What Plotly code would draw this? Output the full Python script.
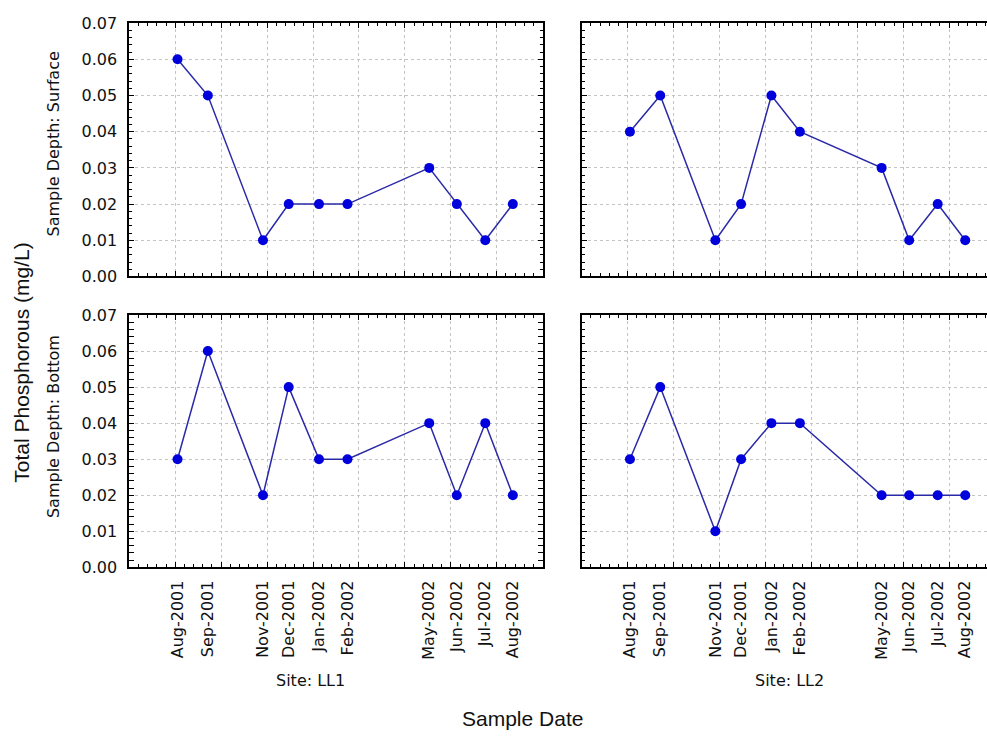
import pandas as pd
import plotly.graph_objects as go

# Sampling dates and their tick labels
dates = ["2001-08-14", "2001-09-16", "2001-11-15", "2001-12-13", "2002-01-15",
         "2002-02-15", "2002-05-15", "2002-06-14", "2002-07-15", "2002-08-14"]
date_labels = ["Aug-2001", "Sep-2001", "Nov-2001", "Dec-2001", "Jan-2002",
               "Feb-2002", "May-2002", "Jun-2002", "Jul-2002", "Aug-2002"]

# Total phosphorous (mg/L) by site and sample depth
ll1_surface = [0.06, 0.05, 0.01, 0.02, 0.02, 0.02, 0.03, 0.02, 0.01, 0.02]
ll2_surface = [0.04, 0.05, 0.01, 0.02, 0.05, 0.04, 0.03, 0.01, 0.02, 0.01]
ll1_bottom = [0.03, 0.06, 0.02, 0.05, 0.03, 0.03, 0.04, 0.02, 0.04, 0.02]
ll2_bottom = [0.03, 0.05, 0.01, 0.03, 0.04, 0.04, 0.02, 0.02, 0.02, 0.02]

y_ticks = [0.0, 0.01, 0.02, 0.03, 0.04, 0.05, 0.06, 0.07]

W, H = 987, 744
DAY_MS = 86400000

# panel geometry (pixels)
left_x = (129.3, 542.7)
right_x0 = 581.7
top_y = (14.5, 274.5)
bot_y = (314.0, 573.0)

x_start = pd.Timestamp("2001-06-22 12:00")
span_days = 450
px_per_day = (left_x[1] - left_x[0]) / span_days
x_end_left = x_start + pd.Timedelta(days=span_days)
x_end_right = x_start + pd.Timedelta(days=(W - right_x0) / px_per_day)
tick0 = x_start + pd.Timedelta(days=50)


def fmt(t):
    return t.strftime("%Y-%m-%d %H:%M:%S")


def xdom(a, b):
    return [a / W, min(b / W, 1.0)]


def ydom(a, b):
    return [1 - b / H, 1 - a / H]


small_font = dict(family="DejaVu Sans", size=16, color="#111111")
big_font = dict(family="Liberation Sans, Arial", size=21, color="#111111")
grid_color = "#c4c4c4"


def x_axis(dom, end, anchor):
    return dict(
        type="date", domain=dom, range=[fmt(x_start), fmt(end)], anchor=anchor,
        tick0=fmt(tick0), dtick=50 * DAY_MS, ticks="inside", ticklen=5,
        tickwidth=1, tickcolor="black", showticklabels=False,
        showgrid=True, gridcolor=grid_color, griddash="dot", gridwidth=1,
        showline=True, linecolor="black", linewidth=2, mirror="allticks",
        zeroline=False,
        minor=dict(tick0=fmt(tick0), dtick=10 * DAY_MS, ticks="inside",
                   ticklen=3, tickcolor="black", tickwidth=1, showgrid=False),
    )


def y_axis(dom, anchor, labels, mirror):
    return dict(
        domain=dom, range=[0, 0.07], anchor=anchor, tickmode="array",
        tickvals=y_ticks, tickformat=".2f", ticks="inside", ticklen=5,
        tickwidth=1, tickcolor="black", showticklabels=labels,
        tickfont=small_font, ticklabelstandoff=7,
        showgrid=True, gridcolor=grid_color, griddash="dot", gridwidth=1,
        showline=True, linecolor="black", linewidth=2, mirror=mirror,
        zeroline=False,
        minor=dict(dtick=0.002, ticks="inside", ticklen=3, tickcolor="black",
                   tickwidth=1, showgrid=False),
    )


def label_axis(dom, end, base, anchor):
    return dict(
        type="date", domain=dom, range=[fmt(x_start), fmt(end)],
        overlaying=base, anchor=anchor, side="bottom",
        tickmode="array", tickvals=dates, ticktext=date_labels,
        tickangle=-90, ticks="", showgrid=False, showline=False,
        zeroline=False, tickfont=small_font, ticklabelstandoff=9,
    )


line_color = "#2a2aa8"
marker_color = "#0000dc"


def series(y, xa, ya):
    return go.Scatter(
        x=dates, y=y, xaxis=xa, yaxis=ya, mode="lines+markers",
        line=dict(color=line_color, width=1.5),
        marker=dict(color=marker_color, size=10, line=dict(width=0)),
        showlegend=False, hoverinfo="x+y",
    )


fig = go.Figure()
fig.add_trace(series(ll1_surface, "x", "y"))
fig.add_trace(series(ll2_surface, "x2", "y2"))
fig.add_trace(series(ll1_bottom, "x3", "y3"))
fig.add_trace(series(ll2_bottom, "x4", "y4"))
# carriers for the date-label axes under the bottom panels
for xa, ya in (("x5", "y3"), ("x6", "y4")):
    fig.add_trace(go.Scatter(x=dates, y=[None] * len(dates), xaxis=xa,
                             yaxis=ya, mode="markers", showlegend=False,
                             hoverinfo="skip"))

ldom = xdom(*left_x)
rdom = xdom(right_x0, right_x0 + (left_x[1] - left_x[0]))
tdom = ydom(*top_y)
bdom = ydom(*bot_y)

fig.update_layout(
    width=W, height=H, margin=dict(l=0, r=0, t=0, b=0),
    paper_bgcolor="white", plot_bgcolor="white",
    xaxis=x_axis(ldom, x_end_left, "y"),
    xaxis2=x_axis(rdom, x_end_right, "y2"),
    xaxis3=x_axis(ldom, x_end_left, "y3"),
    xaxis4=x_axis(rdom, x_end_right, "y4"),
    xaxis5=label_axis(ldom, x_end_left, "x3", "y3"),
    xaxis6=label_axis(rdom, x_end_right, "x4", "y4"),
    yaxis=y_axis(tdom, "x", True, "allticks"),
    yaxis2=y_axis(tdom, "x2", False, False),
    yaxis3=y_axis(bdom, "x3", True, "allticks"),
    yaxis4=y_axis(bdom, "x4", False, False),
)

annotations = [
    dict(text="Sample Depth: Surface", x=53 / W, y=1 - 139 / H, textangle=-90,
         font=small_font),
    dict(text="Sample Depth: Bottom", x=53 / W, y=1 - 429 / H, textangle=-90,
         font=small_font),
    dict(text="Total Phosphorous (mg/L)", x=22 / W, y=1 - 363 / H,
         textangle=-90, font=big_font),
    dict(text="Site: LL1", x=310 / W, y=1 - 689 / H, font=small_font),
    dict(text="Site: LL2", x=789 / W, y=1 - 689 / H, font=small_font),
    dict(text="Sample Date", x=522 / W, y=1 - 728 / H, font=big_font),
]
for a in annotations:
    a.update(xref="paper", yref="paper", showarrow=False,
             xanchor="center", yanchor="middle")
fig.update_layout(annotations=annotations)

fig.write_html("out.html")
